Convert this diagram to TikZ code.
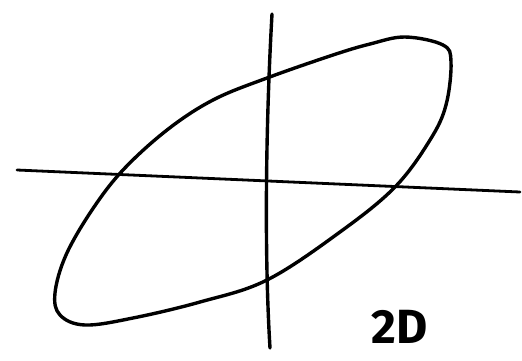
\documentclass[tikz,border=0pt]{standalone}
\usepackage{fontspec}
\setsansfont{Fira Sans}
\usetikzlibrary{positioning}
\tikzset{
  stroke/.style={line width=3.4pt,line cap=round,line join=round},
  sketchlabel/.style={font=\sffamily\bfseries\fontsize{48}{48}\selectfont,inner sep=0pt}
}

\begin{document}
\begin{tikzpicture}[x=1pt,y=-1pt]
        \useasboundingbox (0,0) rectangle (522,360);
        % axes
        \coordinate (xl) at (17,170);
        \coordinate (xr) at (520,192);
        \coordinate (yt) at (272,14);
        \coordinate (yb) at (270,348);
        \draw[stroke,line width=2.8pt] (xl) -- (xr);
        \draw[stroke] (yt) .. controls (266,120) and (264,250) .. (yb);
        % loop
        \draw[stroke] plot[smooth cycle,tension=0.6] coordinates {
          (405,37) (443,45) (451,62) (446,105) (430,140) (395,187)
          (340,232) (267,280) (200,302) (133,318) (85,325) (60,315) (55,293)
          (66,255) (92,210) (123,170) (167,130) (213,100) (267,78) (333,55) (370,44)};
        \node[sketchlabel] (tag) at (400,327) {2D};
      \end{tikzpicture}
\end{document}
